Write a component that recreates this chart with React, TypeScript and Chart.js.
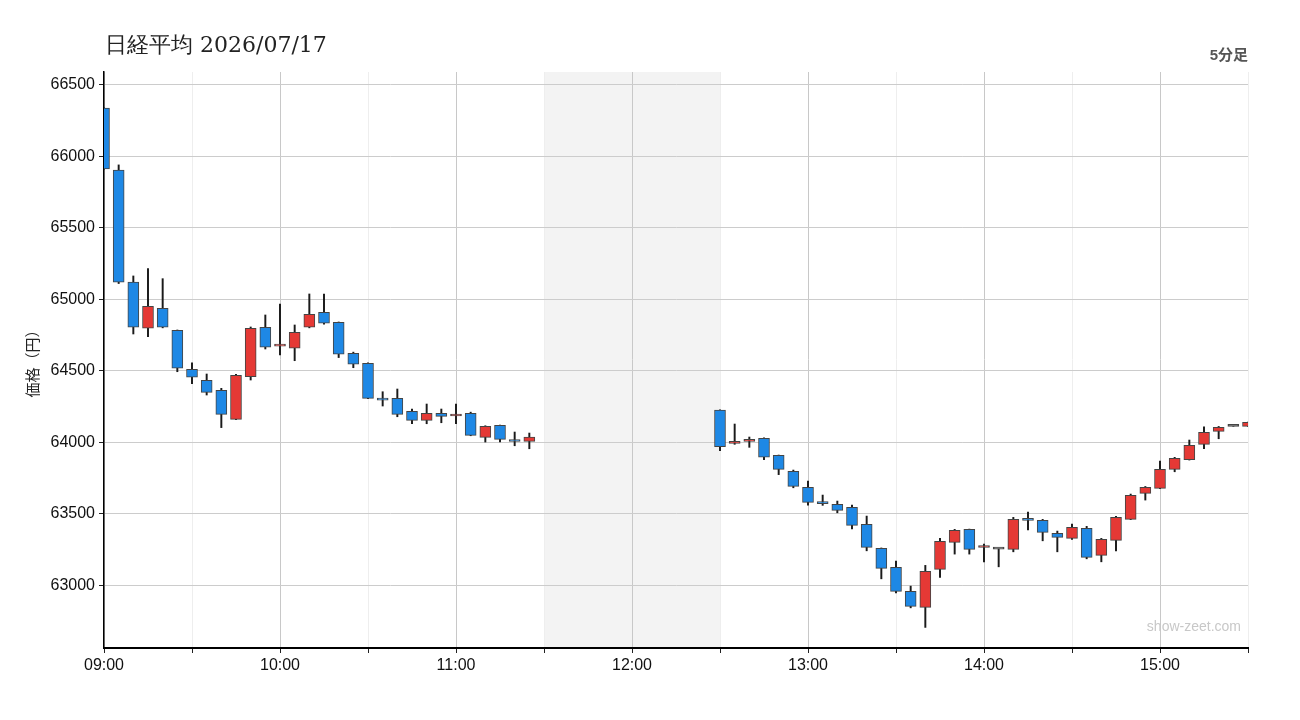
import React, { useEffect, useRef } from "react";
import { Chart, registerables } from "chart.js";

Chart.register(...registerables);

const times = [
  "09:00","09:05","09:10","09:15","09:20","09:25","09:30","09:35","09:40","09:45",
  "09:50","09:55","10:00","10:05","10:10","10:15","10:20","10:25","10:30","10:35",
  "10:40","10:45","10:50","10:55","11:00","11:05","11:10","11:15","11:20","11:25",
  "12:30","12:35","12:40","12:45","12:50","12:55","13:00","13:05","13:10","13:15",
  "13:20","13:25","13:30","13:35","13:40","13:45","13:50","13:55","14:00","14:05",
  "14:10","14:15","14:20","14:25","14:30","14:35","14:40","14:45","14:50","14:55",
  "15:00","15:05","15:10","15:15","15:20","15:25","15:30",
];
const opens = [
  66337,65903,65120,64797,64937,64783,64510,64433,64363,64160,
  64458,64804,64672,64657,64804,64909,64839,64622,64552,64300,
  64307,64216,64153,64202,64183,64202,64034,64118,64013,64006,
  64225,63992,64006,64027,63908,63796,63684,63573,63565,63544,
  63425,63257,63124,62956,62844,63110,63299,63390,63263,63252,
  63250,63467,63453,63362,63327,63397,63208,63313,63460,63642,
  63677,63810,63877,63985,64076,64111,64111,
];
const highs = [
  66340,65940,65163,65214,65144,64785,64556,64477,64377,64475,
  64806,64890,64967,64820,65037,65037,64841,64630,64555,64353,
  64372,64232,64267,64232,64267,64210,64115,64120,64071,64064,
  64227,64127,64036,64030,63910,63805,63728,63630,63588,63560,
  63483,63260,63168,62993,63138,63327,63390,63392,63287,63253,
  63474,63511,63460,63378,63427,63411,63327,63481,63637,63690,
  63868,63894,64015,64108,64110,64111,64140,
];
const lows = [
  65910,65110,64757,64738,64800,64493,64409,64330,64102,64158,
  64435,64652,64610,64570,64800,64825,64592,64521,64305,64253,
  64178,64129,64129,64136,64129,64045,64001,64001,63975,63954,
  63940,63985,63964,63878,63773,63681,63560,63558,63506,63394,
  63240,63044,62946,62841,62704,63054,63217,63217,63163,63128,
  63233,63387,63310,63233,63320,63184,63163,63240,63458,63595,
  63675,63793,63875,63954,64024,64111,64111,
];
const closes = [
  65912,65119,64804,64951,64804,64517,64454,64349,64195,64468,
  64797,64664,64685,64769,64895,64832,64615,64545,64307,64294,
  64195,64153,64202,64181,64195,64048,64111,64020,64005,64036,
  63968,64006,64020,63896,63810,63691,63579,63570,63523,63418,
  63264,63117,62956,62851,63096,63306,63383,63250,63270,63252,
  63460,63453,63369,63334,63404,63194,63320,63474,63628,63684,
  63810,63887,63978,64069,64104,64111,64139,
];
const xTickLabels = ["09:00", "10:00", "11:00", "12:00", "13:00", "14:00", "15:00"];
const yTicks = [63000, 63500, 64000, 64500, 65000, 65500, 66000, 66500];

const toMin = (t: string) => {
  const [h, m] = t.split(":").map(Number);
  return (h - 9) * 60 + m;
};

const UP = "#e53935";
const DOWN = "#1e88e5";
const FLAT = "#555555";
const SANS = "'Liberation Sans', Arial, sans-serif";

export default function App() {
  const ref = useRef<HTMLCanvasElement | null>(null);

  useEffect(() => {
    if (!ref.current) return;
    const xs = times.map(toMin);
    const wicks = xs.map((x, i) => ({ x, y: [lows[i], highs[i]] }));
    const bodies = xs.map((x, i) => ({ x, y: [opens[i], closes[i]] }));
    const bodyColors = opens.map((o, i) =>
      closes[i] > o ? UP : closes[i] < o ? DOWN : FLAT
    );

    const lunchPlugin = {
      id: "lunch",
      beforeDraw(chart: any) {
        const { ctx, chartArea, scales } = chart;
        const x1 = scales.x.getPixelForValue(toMin("11:30"));
        const x2 = scales.x.getPixelForValue(toMin("12:30"));
        ctx.save();
        ctx.fillStyle = "#f3f3f3";
        ctx.fillRect(x1, chartArea.top, x2 - x1, chartArea.bottom - chartArea.top);
        ctx.restore();
      },
      afterDraw(chart: any) {
        const { ctx, chartArea } = chart;
        ctx.save();
        ctx.fillStyle = "#c8c8c8";
        ctx.font = "14px " + SANS;
        ctx.textAlign = "right";
        ctx.textBaseline = "alphabetic";
        ctx.fillText("show-zeet.com", chartArea.right - 7, chartArea.bottom - 17);
        ctx.fillStyle = "#222";
        ctx.font = "15px 'Noto Sans CJK JP', sans-serif";
        ctx.translate(32, (chartArea.top + chartArea.bottom) / 2);
        ctx.rotate(-Math.PI / 2);
        ctx.textAlign = "center";
        ctx.textBaseline = "middle";
        ctx.fillText("価格（円）", 0, 0);
        ctx.restore();
      },
    };

    const chart = new Chart(ref.current, {
      type: "bar",
      data: {
        datasets: [
          {
            label: "body",
            data: bodies as any,
            backgroundColor: bodyColors,
            borderColor: "#444",
            borderWidth: 1,
            borderSkipped: false,
            barThickness: 11,
            minBarLength: 2,
            grouped: false,
            clip: 0,
            order: 0,
          } as any,
          {
            label: "wick",
            data: wicks as any,
            backgroundColor: "#1a1a1a",
            borderWidth: 0,
            barThickness: 1.3,
            grouped: false,
            clip: 0,
            order: 1,
          } as any,
        ],
      },
      options: {
        animation: false,
        responsive: false,
        maintainAspectRatio: false,
        layout: { padding: { left: 0, right: 52, top: 72, bottom: 0 } },
        plugins: { legend: { display: false }, tooltip: { enabled: false } },
        scales: {
          x: {
            type: "linear",
            min: 0,
            max: 390,
            offset: false,
            afterFit: (s: any) => {
              s.height = 72;
            },
            afterBuildTicks: (s: any) => {
              const t: any[] = [];
              for (let v = 0; v <= 390; v += 30) t.push({ value: v });
              s.ticks = t;
            },
            ticks: {
              autoSkip: false,
              maxRotation: 0,
              padding: 3,
              color: "#111",
              font: { size: 16, family: SANS },
              callback: (v: any) => {
                const n = Number(v);
                if (n % 60 !== 0) return "";
                const label = xTickLabels[n / 60];
                return label ?? "";
              },
            },
            grid: {
              offset: false,
              color: (c: any) => (c.tick && c.tick.value % 60 === 0 ? "#c8c8c8" : "#eeeeee"),
              tickColor: "#222",
              tickLength: 5,
              lineWidth: 1,
            },
            border: { color: "#000", width: 2 },
          },
          y: {
            type: "linear",
            min: 62560,
            max: 66590,
            afterFit: (s: any) => {
              s.width = 104;
            },
            afterBuildTicks: (s: any) => {
              s.ticks = yTicks.map((v) => ({ value: v }));
            },
            ticks: {
              padding: 4,
              color: "#111",
              font: { size: 16, family: SANS },
              callback: (v: any) => String(v),
            },
            grid: {
              color: "#cccccc",
              tickColor: "#222",
              tickLength: 5,
              lineWidth: 1,
            },
            border: { color: "#000", width: 1.5 },
          },
        },
      },
      plugins: [lunchPlugin],
    });
    return () => chart.destroy();
  }, []);

  return (
    <div style={{ position: "fixed", left: 0, top: 0, width: 1300, height: 720, background: "#fff" }}>
      <canvas ref={ref} width={1300} height={720} style={{ position: "absolute", left: 0, top: 0, width: 1300, height: 720 }} />
      <div
        style={{
          position: "absolute",
          left: 105,
          top: 30,
          fontFamily: "'DejaVu Serif', serif",
          fontSize: 22,
          color: "#222",
          lineHeight: "30px",
          whiteSpace: "nowrap",
        }}
      >
        日経平均 2026/07/17
      </div>
      <div
        style={{
          position: "absolute",
          right: 52,
          top: 45,
          fontFamily: "'Liberation Sans', 'Noto Sans CJK JP', sans-serif",
          fontWeight: "bold",
          fontSize: 15,
          color: "#555",
          lineHeight: "20px",
          whiteSpace: "nowrap",
        }}
      >
        5分足
      </div>
    </div>
  );
}
